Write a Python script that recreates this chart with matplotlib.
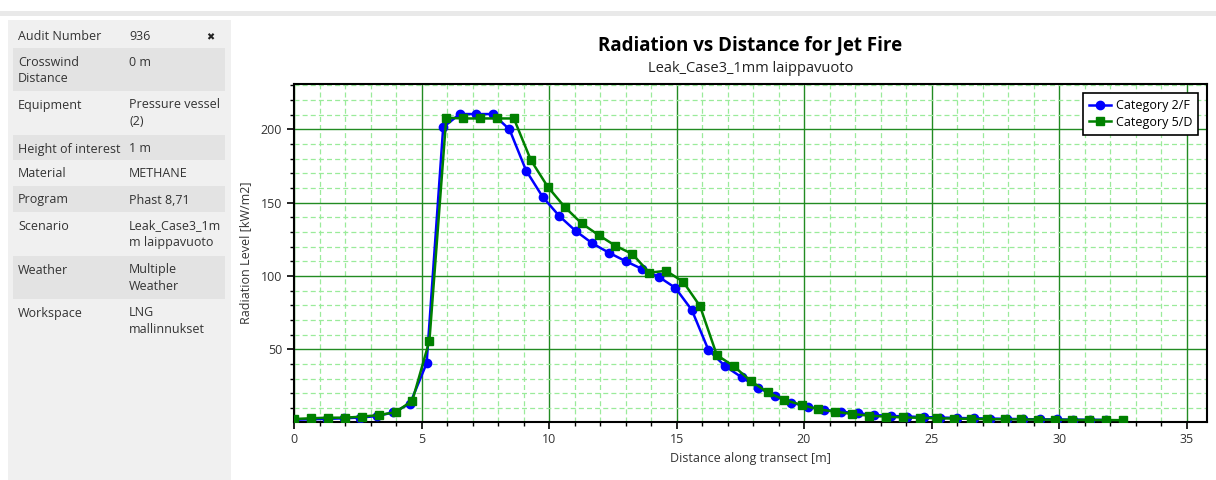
import matplotlib
matplotlib.use('Agg')
import matplotlib.pyplot as plt
from matplotlib.patches import Rectangle
from matplotlib.ticker import MultipleLocator

# ---------------- data ----------------
cat2f_x = [0.0, 0.65, 1.3, 1.95, 2.6, 3.25, 3.9, 4.55, 5.2, 5.85,
           6.5, 7.15, 7.8, 8.45, 9.1, 9.75, 10.4, 11.05, 11.7, 12.35,
           13.0, 13.65, 14.3, 14.95, 15.6, 16.25, 16.9, 17.55, 18.2, 18.85,
           19.5, 20.15, 20.8, 21.45, 22.1, 22.75, 23.4, 24.05, 24.7, 25.35,
           26.0, 26.65, 27.3, 27.95, 28.6, 29.25, 29.9, 30.55, 31.2, 31.85]
cat2f_y = [2.0, 2.3, 2.6, 3.0, 3.5, 4.5, 7.0, 13.0, 40.5, 201.5,
           210.5, 210.5, 210.5, 200.0, 172.0, 154.0, 141.0, 130.7, 122.3, 115.9,
           110.2, 104.8, 99.5, 92.0, 76.8, 49.6, 38.6, 31.0, 23.9, 18.2,
           13.6, 10.9, 8.7, 7.5, 6.4, 5.2, 4.6, 4.2, 3.8, 3.5,
           3.2, 3.0, 2.8, 2.6, 2.4, 2.3, 2.2, 2.1, 2.0, 1.9]
cat5d_x = [0.0, 0.66, 1.33, 1.99, 2.65, 3.32, 3.98, 4.64, 5.31, 5.97,
           6.63, 7.30, 7.96, 8.62, 9.29, 9.95, 10.61, 11.28, 11.94, 12.60,
           13.27, 13.93, 14.59, 15.26, 15.92, 16.58, 17.24, 17.91, 18.57, 19.23,
           19.90, 20.56, 21.22, 21.89, 22.55, 23.21, 23.88, 24.54, 25.20, 25.87,
           26.53, 27.19, 27.86, 28.52, 29.18, 29.85, 30.51, 31.17, 31.84, 32.50]
cat5d_y = [2.5, 3.0, 3.4, 3.4, 4.1, 5.2, 7.1, 15.0, 55.9, 208.0,
           207.5, 207.5, 207.5, 207.5, 179.0, 160.9, 147.2, 135.9, 128.0, 120.7,
           115.0, 102.3, 103.6, 96.1, 79.5, 46.1, 38.6, 28.4, 20.7, 15.5,
           12.1, 9.1, 7.5, 5.9, 4.8, 4.1, 3.6, 3.3, 3.0, 2.8,
           2.6, 2.4, 2.3, 2.2, 2.1, 2.0, 1.9, 1.8, 1.8, 1.7]
series_labels = ['Category 2/F', 'Category 5/D']
x_ticks = [0, 5, 10, 15, 20, 25, 30, 35]
y_ticks = [50, 100, 150, 200]

panel_keys = ['Audit Number', 'Crosswind\nDistance', 'Equipment', 'Height of interest',
              'Material', 'Program', 'Scenario', 'Weather', 'Workspace']
panel_vals = ['936', '0 m', 'Pressure vessel\n(2)', '1 m', 'METHANE', 'Phast 8,71',
              'Leak_Case3_1m\nm laippavuoto', 'Multiple\nWeather', 'LNG\nmallinnukset']

title = 'Radiation vs Distance for Jet Fire'
subtitle = 'Leak_Case3_1mm laippavuoto'
xlabel = 'Distance along transect [m]'
ylabel = 'Radiation Level [kW/m2]'

# ---------------- figure ----------------
plt.rcParams['font.family'] = ['Open Sans', 'DejaVu Sans']
W, H = 1216, 480
fig = plt.figure(figsize=(W / 100, H / 100), dpi=100)
fig.patch.set_facecolor('white')


def rect(x0, y0, x1, y1, color):
    fig.patches.append(Rectangle((x0 / W, 1 - y1 / H), (x1 - x0) / W, (y1 - y0) / H,
                                 transform=fig.transFigure, facecolor=color,
                                 edgecolor='none', zorder=0))


def ftext(x, y, s, **kw):
    fig.text(x / W, 1 - y / H, s, **kw)


# top bar and left panel
rect(0, 11, W, 16, '#e9e9e9')
rect(8, 20, 231, 480, '#f0f0f0')
row_bounds = [(22, 48), (48, 91), (91, 135), (135, 160), (160, 186),
              (186, 212), (212, 256), (256, 299), (299, 345)]
for i, (y0, y1) in enumerate(row_bounds):
    if i % 2 == 1:
        rect(13, y0, 225, y1, '#e3e3e3')
    ftext(18, y0 + 7.5, panel_keys[i], fontsize=9, color='#333333', va='top',
          linespacing=1.35)
    ftext(129, y0 + 7.5, panel_vals[i], fontsize=9, color='#333333', va='top',
          linespacing=1.35)
ftext(210, 37, '\u2716', fontsize=7, color='#222222', ha='center', va='center',
      family='DejaVu Sans')

# ---------------- axes ----------------
left, right, top, bottom = 294, 1207, 84, 421.5
ax = fig.add_axes([left / W, 1 - bottom / H, (right - left) / W, (bottom - top) / H])
ax.set_xlim(0, 35.8)
ax.set_ylim(0.8, 231)

ax.plot(cat2f_x, cat2f_y, color='#0000ff', lw=1.8, marker='o', ms=6,
        label=series_labels[0], zorder=3)
ax.plot(cat5d_x, cat5d_y, color='#008000', lw=1.8, marker='s', ms=6,
        label=series_labels[1], zorder=4)

ax.set_xticks(x_ticks)
ax.set_yticks(y_ticks)
ax.xaxis.set_minor_locator(MultipleLocator(1))
ax.yaxis.set_minor_locator(MultipleLocator(10))
ax.grid(which='minor', color='#9aeb9a', linestyle=(0, (4, 2.5)), linewidth=0.9, zorder=0)
ax.grid(which='major', color='#228b22', linestyle='-', linewidth=1.0, zorder=1)
ax.set_axisbelow(True)
ax.tick_params(which='major', direction='out', length=5, width=1.2, color='black',
               labelsize=9, labelcolor='#333333')
ax.tick_params(which='minor', direction='out', length=3, width=1, color='black')
for sp in ax.spines.values():
    sp.set_linewidth(1.5)
    sp.set_color('black')

ax.set_xlabel(xlabel, fontsize=9, color='#333333', labelpad=4)
ax.set_ylabel(ylabel, fontsize=9, color='#333333', labelpad=6)

leg = ax.legend(loc='upper right', fontsize=9, frameon=True, fancybox=False,
                edgecolor='black', framealpha=1, borderaxespad=0.7,
                handlelength=1.7, handletextpad=0.4, borderpad=0.5,
                labelspacing=0.3)
leg.get_frame().set_linewidth(1.2)

ftext(750.5, 45, title, fontsize=13.5, fontweight='bold', color='black',
      ha='center', va='center')
ftext(750.5, 68, subtitle, fontsize=10.5, color='#222222', ha='center', va='center')

fig.savefig('out.png', dpi=100)
